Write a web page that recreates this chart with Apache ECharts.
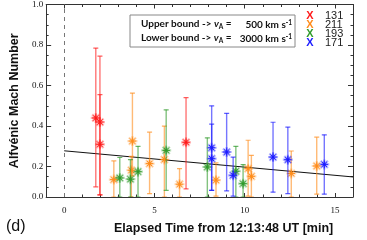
<!DOCTYPE html>
<html><head><meta charset="utf-8">
<script src="https://cdn.jsdelivr.net/npm/echarts@6/dist/echarts.min.js"></script>
<style>html,body{margin:0;padding:0;background:#fff}#c{width:367px;height:240px}</style>
</head><body><div id="c"></div>
<script>
// ---- data ----
const seriesNames = ['131', '211', '193', '171'];
const seriesColors = ['#ff1a1a', '#ff8c1a', '#2e9a2a', '#1a1aff'];

const x131 = [1.75, 1.98, 1.98, 6.75];
const y131 = [0.44, 0.42, 0.31, 0.32];
const lo131 = [0.10, 0.06, 0.06, 0.09];
const hi131 = [0.785, 0.745, 0.555, 0.54];

const x211 = [2.75, 3.78, 3.72, 4.73, 5.55, 6.39, 8.41, 10.19, 10.37, 12.58, 13.99];
const y211 = [0.136, 0.326, 0.182, 0.215, 0.235, 0.113, 0.133, 0.19, 0.152, 0.166, 0.203];
const lo211 = [0.05, 0.154, 0.05, 0.067, 0.05, 0.05, 0.054, 0.054, 0.05, 0.05, 0.064];
const hi211 = [0.228, 0.563, 0.25, 0.37, 0.40, 0.19, 0.218, 0.33, 0.255, 0.277, 0.345];

const x193 = [3.08, 3.67, 4.09, 5.65, 7.93, 9.51, 9.91];
const y193 = [0.144, 0.138, 0.175, 0.28, 0.198, 0.177, 0.116];
const lo193 = [0.05, 0.05, 0.05, 0.083, 0.05, 0.05, 0.05];
const hi193 = [0.245, 0.234, 0.30, 0.48, 0.342, 0.30, 0.21];

const x171 = [8.17, 8.17, 9.0, 9.36, 11.57, 12.39, 14.41];
const y171 = [0.293, 0.239, 0.272, 0.157, 0.247, 0.234, 0.211];
const lo171 = [0.083, 0.083, 0.08, 0.054, 0.074, 0.067, 0.064];
const hi171 = [0.50, 0.41, 0.463, 0.247, 0.419, 0.395, 0.357];

const fitX = [0, 16];
const fitY = [0.278, 0.149];

const xTickLabels = [0, 5, 10, 15];
const yTickValues = [0.05, 0.2, 0.4, 0.6, 0.8, 1.0];
const yTickLabels = ['0.0', '0.2', '0.4', '0.6', '0.8', '1.0'];

const X_MIN = -1, X_MAX = 16, Y_MIN = 0.05, Y_MAX = 1.0;

// ---- helpers ----
const xMinor = []; for (let v = 0; v <= 16; v++) xMinor.push(v);
const yMinor = []; for (let k = 1; k <= 20; k++) yMinor.push(Math.round(k * 5) / 100);

function rows(xs, ys, lo, hi) { return xs.map((x, i) => [x, ys[i], lo[i], hi[i]]); }
const allData = [rows(x131, y131, lo131, hi131), rows(x211, y211, lo211, hi211),
                 rows(x193, y193, lo193, hi193), rows(x171, y171, lo171, hi171)];

function renderErr(color) {
  return function (params, api) {
    const x = api.value(0), y = api.value(1), lo = api.value(2), hi = api.value(3);
    const c = api.coord([x, y]), pl = api.coord([x, lo]), ph = api.coord([x, hi]);
    const cap = 2.5, r = 5, d = r * 0.72;
    const ch = [];
    const ln = (x1, y1, x2, y2, w, op) => ({ type: 'line', shape: { x1, y1, x2, y2 },
      style: { stroke: color, lineWidth: w, opacity: op } });
    ch.push(ln(ph[0], ph[1], pl[0], pl[1], 1.4, 0.6));
    ch.push(ln(ph[0] - cap, ph[1], ph[0] + cap, ph[1], 1.2, 0.7));
    ch.push(ln(pl[0] - cap, pl[1], pl[0] + cap, pl[1], 1.2, 0.7));
    const star = [[-r, 0, r, 0], [0, -r, 0, r], [-d, -d, d, d], [-d, d, d, -d]];
    star.forEach(s => ch.push(ln(c[0] + s[0], c[1] + s[1], c[0] + s[2], c[1] + s[3], 2.2, 0.35)));
    star.forEach(s => ch.push(ln(c[0] + s[0] * 0.75, c[1] + s[1] * 0.75, c[0] + s[2] * 0.75, c[1] + s[3] * 0.75, 1, 0.95)));
    return { type: 'group', children: ch };
  };
}

const axisCommon = { min: X_MIN, max: X_MAX, type: 'value', splitLine: { show: false } };
const lineStyle = { color: '#333', width: 1 };
function xAx(pos, major, showLine, showLabel) {
  return Object.assign({}, axisCommon, {
    position: pos,
    axisLine: { show: showLine, onZero: false, lineStyle },
    axisTick: { show: true, inside: true, length: major ? 4 : 2.5, lineStyle, customValues: major ? xTickLabels : xMinor },
    axisLabel: { show: showLabel, customValues: xTickLabels, fontFamily: 'Liberation Serif', fontSize: 9, color: '#111', margin: 9 }
  });
}
function yAx(pos, major, showLine, showLabel) {
  return {
    type: 'value', min: Y_MIN, max: Y_MAX, position: pos, splitLine: { show: false },
    axisLine: { show: showLine, onZero: false, lineStyle },
    axisTick: { show: true, inside: true, length: major ? 5 : 2.5, lineStyle, customValues: major ? yTickValues : yMinor },
    axisLabel: { show: showLabel, customValues: yTickValues, fontFamily: 'Liberation Serif', fontSize: 9, color: '#111', margin: 3,
      formatter: v => { const i = yTickValues.findIndex(t => Math.abs(t - v) < 1e-6); return i >= 0 ? yTickLabels[i] : ''; } }
  };
}

const xAxes = [xAx('bottom', true, true, true), xAx('bottom', false, false, false), xAx('top', true, true, false), xAx('top', false, false, false)];
Object.assign(xAxes[0], { name: 'Elapsed Time from 12:13:48 UT [min]', nameLocation: 'middle', nameGap: 25,
  nameTextStyle: { fontFamily: 'Liberation Sans', fontWeight: 'bold', fontSize: 12.5, color: '#111', padding: [0, 0, 0, 48] } });
const yAxes = [yAx('left', true, true, true), yAx('left', false, false, false), yAx('right', true, true, false), yAx('right', false, false, false)];
Object.assign(yAxes[0], { name: 'Alfvénic Mach Number', nameLocation: 'middle', nameGap: 18,
  nameTextStyle: { fontFamily: 'Liberation Sans', fontWeight: 'bold', fontSize: 12.5, color: '#111' } });

const series = seriesNames.map((n, i) => ({
  name: n, type: 'custom', xAxisIndex: 0, yAxisIndex: 0, clip: true, z: 3,
  itemStyle: { color: seriesColors[i] },
  encode: { x: 0, y: 1 },
  renderItem: renderErr(seriesColors[i]),
  data: allData[i]
}));
series.unshift({
  type: 'line', xAxisIndex: 0, yAxisIndex: 0, data: fitX.map((x, i) => [x, fitY[i]]),
  symbol: 'none', lineStyle: { color: '#111', width: 1 }, silent: true, z: 2,
  markLine: { silent: true, symbol: 'none', label: { show: false },
    lineStyle: { color: '#777', type: [4, 4], width: 1 }, data: [{ xAxis: 0 }] }
});

function richBox() {
  const f = 'Lato';
  return {
    b: { fontFamily: f, fontWeight: 'bold', fontSize: 10, fill: '#111', lineHeight: 12 },
    v: { fontFamily: f, fontWeight: 'bold', fontStyle: 'italic', fontSize: 10, fill: '#111', lineHeight: 12 },
    s: { fontFamily: f, fontWeight: 'bold', fontSize: 6.5, fill: '#111', lineHeight: 12, verticalAlign: 'bottom', padding: [4, 0, 0, 0] },
    p: { fontFamily: f, fontWeight: 'bold', fontSize: 6.5, fill: '#111', lineHeight: 12, verticalAlign: 'top' }
  };
}

// legend drawn as text (coloured X + wavelength)
const legendGraphics = [];
seriesNames.forEach((n, i) => {
  const yc = 16 + i * 9.1;
  legendGraphics.push({ type: 'text', x: 310, y: yc, z: 11, style: { text: 'X', fill: seriesColors[i],
    font: 'bold 11px "Liberation Sans"', align: 'center', verticalAlign: 'middle' } });
  legendGraphics.push({ type: 'text', x: 325, y: yc, z: 11, style: { text: n, fill: '#222',
    font: '11px "Liberation Sans"', align: 'left', verticalAlign: 'middle' } });
});

const chart = echarts.init(document.getElementById('c'), null, { renderer: 'canvas' });
chart.setOption({
  animation: false,
  grid: { left: 45.5, right: 14, top: 4, bottom: 43 },
  xAxis: xAxes,
  yAxis: yAxes,
  graphic: [
    { type: 'rect', left: 129.5, top: 14.5, shape: { width: 165, height: 32 }, style: { fill: '#fff', stroke: '#888', lineWidth: 1 }, z: 10 },
    { type: 'text', left: 141, top: 19, z: 11, style: {
      text: '{b|Upper bound -> }{v|v}{s|A}{b| =}', rich: richBox() } },
    { type: 'text', left: 141, top: 33, z: 11, style: {
      text: '{b|Lower bound -> }{v|v}{s|A}{b| =}', rich: richBox() } },
    { type: 'text', right: 367 - 292, top: 19, z: 11, style: {
      text: '{b|500 km s}{p|-1}', rich: richBox() } },
    { type: 'text', right: 367 - 292, top: 33, z: 11, style: {
      text: '{b|3000 km s}{p|-1}', rich: richBox() } },
    { type: 'text', left: 6, top: 219, style: { text: '(d)', font: '16px "Liberation Sans"', fill: '#111' } }
  ].concat(legendGraphics),
  series
});
</script></body></html>
